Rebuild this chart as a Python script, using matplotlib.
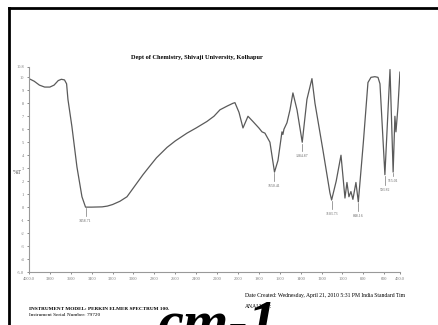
import matplotlib
matplotlib.use("Agg")
import matplotlib.pyplot as plt
from matplotlib.lines import Line2D

plt.rcParams['font.family'] = ['Liberation Serif', 'DejaVu Serif']

# spectrum (wavenumber cm-1, %T)
wavenumber = [4000, 3950, 3900, 3850, 3800, 3760, 3720, 3690, 3660, 3640,
              3627, 3589, 3541, 3493, 3458.71, 3400, 3300, 3250, 3200, 3130,
              3062, 2990, 2909, 2850, 2780, 2679, 2600, 2488, 2400, 2297,
              2230, 2172, 2100, 2048, 2029, 1990, 1952, 1904, 1857, 1800,
              1770, 1742, 1694, 1650.41, 1617, 1579, 1570, 1560, 1531, 1502,
              1474, 1435, 1384.87, 1340, 1292, 1263, 1187, 1120, 1103.73, 1060,
              1014, 976, 957, 938, 919, 900, 871, 848.16, 800, 756,
              727, 690, 660, 641, 593.82, 545, 515.01, 498, 488, 469, 450]
transmittance = [9.9, 9.7, 9.4, 9.25, 9.25, 9.4, 9.75, 9.85, 9.8, 9.5,
                 8.3, 6.2, 3.1, 0.8, 0.0, 0.0, 0.02, 0.08, 0.2, 0.45,
                 0.8, 1.6, 2.5, 3.1, 3.8, 4.6, 5.1, 5.7, 6.1, 6.6,
                 7.0, 7.5, 7.8, 8.0, 8.05, 7.3, 6.1, 7.0, 6.6, 6.1,
                 5.8, 5.7, 5.0, 2.7, 3.6, 5.8, 5.6, 6.0, 6.5, 7.5,
                 8.8, 7.5, 5.0, 8.3, 9.9, 8.0, 4.4, 1.1, 0.55, 2.0,
                 4.0, 0.7, 1.9, 0.8, 1.2, 0.6, 1.9, 0.4, 5.0, 9.6,
                 10.0, 10.05, 10.0, 9.5, 2.5, 10.6, 2.7, 7.0, 5.8, 7.7, 10.4]

peak_wn = [3458.71, 1650.41, 1384.87, 1103.73, 848.16, 593.82, 515.01]
peak_T = [0.0, 2.7, 5.0, 0.55, 0.4, 2.5, 2.7]
peak_text = ['3458.71', '1650.41', '1384.87', '1103.73', '848.16', '593.82', '515.01']
peak_drop = [0.9, 0.9, 0.9, 0.9, 0.9, 1.0, 0.5]

xticks = [4000, 3800, 3600, 3400, 3200, 3000, 2800, 2600, 2400, 2200,
          2000, 1800, 1600, 1400, 1200, 1000, 800, 600, 450]
xtick_labels = ['4000.0', '3800', '3600', '3400', '3200', '3000', '2800', '2600',
                '2400', '2200', '2000', '1800', '1600', '1400', '1200', '1000',
                '800', '600', '450.0']
yticks = [10.8, 10, 9, 8, 7, 6, 5, 4, 3, 2, 1, 0, -1, -2, -3, -4, -5]
ytick_labels = ['10.8', '10', '9', '8', '7', '6', '5', '4', '3', '2', '1', '0',
                '-1', '-2', '-3', '-4', '-5.0']

fig = plt.figure(figsize=(4.39, 3.25), dpi=100)
fig.patch.set_facecolor('white')

ax = fig.add_axes([0.066, 0.163, 0.845, 0.631])
ax.plot(wavenumber, transmittance, color='#5a5a5a', lw=0.9)
ax.set_xlim(4000, 450)
ax.set_ylim(-5, 10.8)
ax.set_xticks(xticks)
ax.set_xticklabels(xtick_labels)
ax.set_yticks(yticks)
ax.set_yticklabels(ytick_labels)
ax.tick_params(labelsize=3.2, colors='#777777', length=1.5, width=0.6, pad=2)
for s in ['top', 'right']:
    ax.spines[s].set_visible(False)
for s in ['left', 'bottom']:
    ax.spines[s].set_color('#999999')
    ax.spines[s].set_linewidth(0.8)

# peak markers
for w, t, lab, d in zip(peak_wn, peak_T, peak_text, peak_drop):
    ax.plot([w, w], [t - 0.1, t - d + 0.2], color='#777777', lw=0.5)
    ax.text(w, t - d, lab, fontsize=2.8, color='#666666', ha='center', va='top')

fig.text(17 / 439, 1 - 172 / 325, '%T', fontsize=4.5, color='#555555',
         ha='center', va='center')

fig.text(197 / 439, 1 - 57 / 325, 'Dept of Chemistry, Shivaji University, Kolhapur',
         fontsize=4.6, fontweight='bold', ha='center', va='center')

fig.text(245 / 439, 1 - 296 / 325,
         'Date Created: Wednesday, April 21, 2010 5:31 PM India Standard Tim',
         fontsize=4.1, ha='left', va='center')
fig.text(245 / 439, 1 - 307 / 325, 'ANALYST:', fontsize=4.1, ha='left', va='center')
fig.text(29 / 439, 1 - 309 / 325, 'INSTRUMENT MODEL: PERKIN ELMER SPECTRUM 100.',
         fontsize=3.8, fontweight='bold', ha='left', va='center')
fig.text(29 / 439, 1 - 315 / 325, 'Instrument Serial Number: 79720',
         fontsize=3.8, ha='left', va='center')

# big overlay text, cut by the bottom edge as in the scan
fig.text(157 / 439, 1 - 340 / 325, 'cm-1', fontsize=42, fontweight='bold',
         fontstyle='italic', ha='left', va='baseline')

# frame of the scanned page
fig.add_artist(Line2D([9 / 439, 9 / 439], [0, 1 - 8 / 325], color='black', lw=2))
fig.add_artist(Line2D([9 / 439, 1], [1 - 8 / 325, 1 - 8 / 325], color='black', lw=2))

fig.savefig('out.png', dpi=100)
